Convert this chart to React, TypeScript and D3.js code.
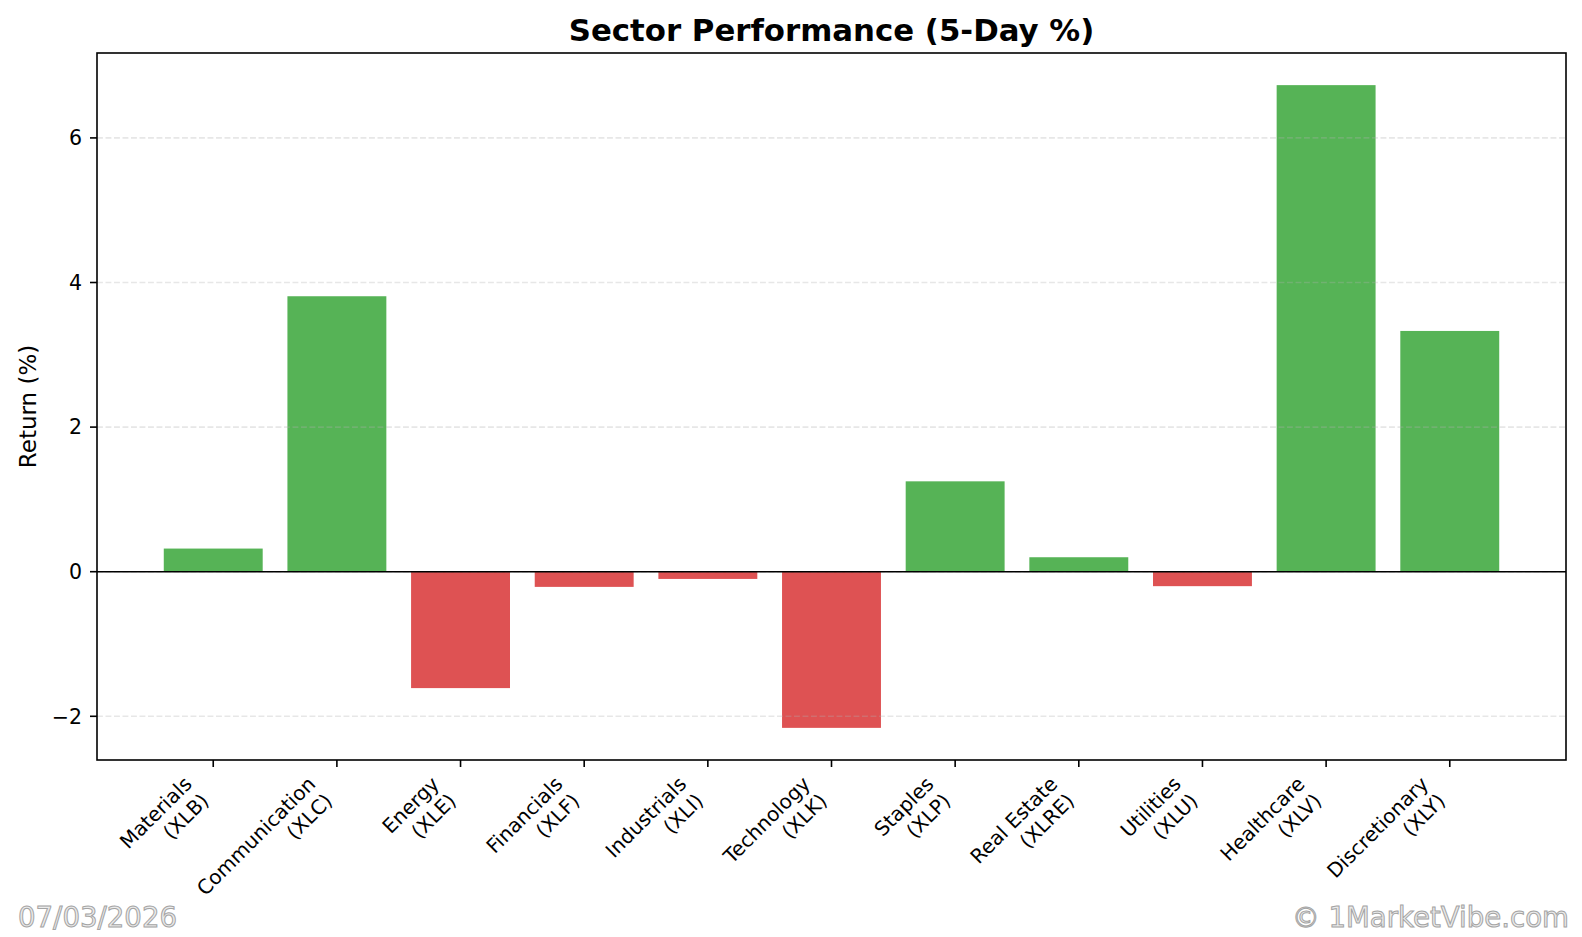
import React from "react";
import * as d3 from "d3";

const sectors = ["Materials", "Communication", "Energy", "Financials", "Industrials", "Technology", "Staples", "Real Estate", "Utilities", "Healthcare", "Discretionary"];
const tickers = ["XLB", "XLC", "XLE", "XLF", "XLI", "XLK", "XLP", "XLRE", "XLU", "XLV", "XLY"];
const returns = [0.32, 3.81, -1.61, -0.21, -0.10, -2.16, 1.25, 0.20, -0.20, 6.73, 3.33];
const yTicks = [-2, 0, 2, 4, 6];
const titleText = "Sector Performance (5-Day %)";
const yLabel = "Return (%)";
const dateText = "07/03/2026";
const creditText = "© 1MarketVibe.com";

const W = 1582, H = 937;
const L = 97, R = 1566, T = 53, B = 760;
const FONT = "'DejaVu Sans', Verdana, sans-serif";
const GREEN = "#56b356";
const RED = "#de5253";

export default function App() {
  const n = returns.length;
  const barW = 0.8;
  const xPad = (n - 1 + barW) * 0.05;
  const x = d3.scaleLinear().domain([-barW / 2 - xPad, n - 1 + barW / 2 + xPad]).range([L, R]);
  const [mn, mx] = d3.extent(returns) as [number, number];
  const span = mx - mn;
  const y = d3.scaleLinear().domain([mn - span * 0.05, mx + span * 0.05]).range([B, T]);
  const tf = 20;
  const blockH = 2.19 * tf;
  const s = Math.SQRT1_2;
  const y0 = B + 7 + 7.5;

  return (
    <div style={{ position: "fixed", left: 0, top: 0, width: W, height: H, background: "#fff" }}>
      <svg width={W} height={H} style={{ display: "block" }} fontFamily={FONT}>
        <rect x={0} y={0} width={W} height={H} fill="#fff" />
        {/* bars */}
        {returns.map((v, i) => (
          <rect
            key={i}
            x={x(i - barW / 2)}
            width={x(i + barW / 2) - x(i - barW / 2)}
            y={y(Math.max(0, v))}
            height={Math.abs(y(v) - y(0))}
            fill={v >= 0 ? GREEN : RED}
          />
        ))}
        {/* grid */}
        {yTicks.map((t) => (
          <line key={t} x1={L} x2={R} y1={y(t)} y2={y(t)} stroke="#b0b0b0" strokeOpacity={0.3} strokeWidth={1.6} strokeDasharray="5.9,2.6" />
        ))}
        {/* zero line */}
        <line x1={L} x2={R} y1={y(0)} y2={y(0)} stroke="#000" strokeWidth={1.6} />
        {/* spines */}
        <rect x={L} y={T} width={R - L} height={B - T} fill="none" stroke="#000" strokeWidth={1.6} />
        {/* y ticks */}
        {yTicks.map((t) => (
          <g key={t}>
            <line x1={L - 7} x2={L} y1={y(t)} y2={y(t)} stroke="#000" strokeWidth={1.6} />
            <text x={L - 15} y={y(t)} dy="0.36em" textAnchor="end" fontSize={20.5} fill="#000">
              {t < 0 ? "\u2212" + Math.abs(t) : String(t)}
            </text>
          </g>
        ))}
        {/* x ticks */}
        {sectors.map((name, i) => {
          const tx = x(i);
          return (
            <g key={name}>
              <line x1={tx} x2={tx} y1={B} y2={B + 7} stroke="#000" strokeWidth={1.6} />
              <g transform={`translate(${tx - blockH * s},${y0}) rotate(-45)`}>
                <text textAnchor="end" fontSize={tf} fill="#000">
                  <tspan x={0} y={0.76 * tf}>{name}</tspan>
                  <tspan x={0} y={0.76 * tf + 1.195 * tf}>{`(${tickers[i]})`}</tspan>
                </text>
              </g>
            </g>
          );
        })}
        {/* y label */}
        <text transform={`translate(36,${(T + B) / 2}) rotate(-90)`} textAnchor="middle" fontSize={23} fill="#000">
          {yLabel}
        </text>
        {/* title */}
        <text x={(L + R) / 2} y={41} textAnchor="middle" fontSize={30.8} fontWeight="bold" fill="#000">
          {titleText}
        </text>
        {/* watermarks */}
        <text x={18} y={927} fontSize={27.6} fill="#ebebeb" stroke="#a4a4a4" strokeWidth={1}>
          {dateText}
        </text>
        <text x={1569} y={927} textAnchor="end" fontSize={27.6} fill="#ebebeb" stroke="#a4a4a4" strokeWidth={1}>
          {creditText}
        </text>
      </svg>
    </div>
  );
}
